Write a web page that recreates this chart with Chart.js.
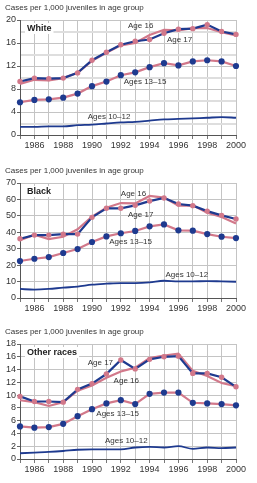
<!DOCTYPE html>
<html><head><meta charset="utf-8">
<script src="https://cdn.jsdelivr.net/npm/chart.js@4.4.0/dist/chart.umd.min.js"></script>
<style>
html,body{margin:0;padding:0;background:#fff;width:257px;height:483px;overflow:hidden}
.p{position:absolute;left:0;width:257px;height:158px}
canvas{display:block}
</style></head><body>
<div class="p" style="top:0"><canvas id="c0" width="257" height="158"></canvas></div>
<div class="p" style="top:163px"><canvas id="c1" width="257" height="158"></canvas></div>
<div class="p" style="top:324px"><canvas id="c2" width="257" height="158"></canvas></div>
<script>
const years = [1985,1986,1987,1988,1989,1990,1991,1992,1993,1994,1995,1996,1997,1998,1999,2000];
const axisTitle = "Cases per 1,000 juveniles in age group";
const seriesNames = ["Age 17","Age 16","Ages 13\u201315","Ages 10\u201312"];

// White
const whiteAge17 = [9.3,9.9,9.8,9.9,10.8,13.0,14.4,15.7,16.3,16.6,17.7,18.4,18.5,19.2,18.0,17.5];
const whiteAge16 = [8.9,9.6,9.5,9.9,10.8,12.9,14.3,15.6,16.0,17.4,18.3,18.2,18.6,18.6,17.9,17.3];
const white13_15 = [5.7,6.1,6.2,6.5,7.2,8.5,9.3,10.4,10.9,11.8,12.5,12.1,12.8,13.0,12.8,12.0];
const white10_12 = [1.4,1.4,1.5,1.5,1.7,1.8,2.0,2.2,2.3,2.5,2.7,2.8,2.9,3.0,3.1,3.0];
// Black
const blackAge17 = [36.1,38.3,38.3,38.9,38.9,49.1,54.6,54.6,56.4,59.0,60.9,57.2,56.2,52.9,50.3,48.1];
const blackAge16 = [35.1,38.5,35.9,37.3,41.8,49.5,55.0,57.8,57.6,62.1,61.1,56.2,56.4,51.9,49.3,45.4];
const black13_15 = [22.5,23.9,24.9,27.4,29.8,34.1,37.5,39.4,40.8,43.6,44.8,41.2,41.0,38.9,37.3,36.5];
const black10_12 = [5.5,5.1,5.5,6.3,6.9,8.1,8.7,9.1,9.1,9.5,10.5,10.1,10.1,10.3,10.1,9.9];
// Other races
const otherAge17 = [9.8,9.0,9.0,8.9,10.9,11.8,13.3,15.5,14.1,15.6,16.0,16.1,13.4,13.4,12.8,11.3];
const otherAge16 = [9.2,8.9,8.3,8.9,10.7,11.5,12.7,13.7,14.3,15.8,16.2,16.5,13.8,13.0,11.9,11.4];
const other13_15 = [5.1,4.9,5.0,5.5,6.7,7.8,8.7,9.2,8.6,10.2,10.4,10.4,8.8,8.7,8.6,8.4];
const other10_12 = [0.9,1.0,1.1,1.25,1.45,1.5,1.5,1.5,1.8,1.9,1.8,2.0,1.6,1.8,1.7,1.8];

const panelNames = ["White","Black","Other races"];
const yMax = [20,70,18];
const yGridStep = [2,10,2];
const yLabelStep = [4,10,2];
// label anchor positions in data space [year, value] for each series label
const labelAnchors = [
  [[1995.2,16.6],[1992.5,19.0],[1992.2,9.3],[1989.7,3.1]],
  [[1992.5,50.8],[1992.0,63.5],[1991.2,34.5],[1995.1,14.4]],
  [[1989.7,15.0],[1991.5,12.3],[1990.3,7.1],[1990.9,2.9]]
];

const BLUE = "#1e3a8f";
const PINK = "#d2788a";
const FONT = "'Liberation Sans', Arial, sans-serif";

const panelData = [
  [whiteAge17, whiteAge16, white13_15, white10_12],
  [blackAge17, blackAge16, black13_15, black10_12],
  [otherAge17, otherAge16, other13_15, other10_12]
];

function makeChart(idx){
  const d = panelData[idx];
  const toPts = arr => arr.map((v,i)=>({x:years[i], y:v}));
  const annot = {
    id:'annot'+idx,
    afterDraw(chart){
      const ctx = chart.ctx, xs = chart.scales.x, ys = chart.scales.y, ca = chart.chartArea;
      ctx.save();
      ctx.fillStyle = "#333";
      ctx.font = "8px " + FONT;
      ctx.textAlign = "left"; ctx.textBaseline = "middle";
      ctx.fillText(axisTitle, 5, 7.5);
      ctx.font = "bold 9px " + FONT;
      const nm = panelNames[idx];
      const w = ctx.measureText(nm).width;
      ctx.fillStyle = "#fff";
      ctx.fillRect(ca.left + 5, ca.top + 3, w + 4, 11);
      ctx.fillStyle = "#222";
      ctx.fillText(nm, ca.left + 7, ca.top + 8.5);
      ctx.font = "8px " + FONT;
      ctx.fillStyle = "#333";
      labelAnchors[idx].forEach((a,k)=>{
        ctx.fillText(seriesNames[k], xs.getPixelForValue(a[0]), ys.getPixelForValue(a[1]));
      });
      ctx.restore();
    }
  };
  return new Chart(document.getElementById('c'+idx), {
    type:'line',
    data:{datasets:[
      {label:seriesNames[0], data:toPts(d[0]), borderColor:BLUE, borderWidth:2.2, pointRadius:2.7, pointBackgroundColor:PINK, pointBorderColor:PINK, pointBorderWidth:0, tension:0, clip:false},
      {label:seriesNames[1], data:toPts(d[1]), borderColor:PINK, borderWidth:2.2, pointRadius:0, tension:0, clip:false},
      {label:seriesNames[2], data:toPts(d[2]), borderColor:PINK, borderWidth:2.2, pointRadius:3.1, pointBackgroundColor:BLUE, pointBorderColor:BLUE, pointBorderWidth:0, tension:0, clip:false},
      {label:seriesNames[3], data:toPts(d[3]), borderColor:BLUE, borderWidth:1.8, pointRadius:0, cubicInterpolationMode:'monotone', clip:false}
    ]},
    options:{
      responsive:false, animation:false, devicePixelRatio:1,
      layout:{padding:{top:20,right:21,left:0,bottom:0}},
      plugins:{legend:{display:false}, tooltip:{enabled:false}, title:{display:false}},
      scales:{
        x:{type:'linear', min:1985, max:2000,
          afterFit(s){ s.height = 23; },
          border:{color:"#555", width:1},
          grid:{color:"#c4c4c4", lineWidth:1, tickLength:4, drawTicks:true, tickColor:"#777"},
          ticks:{stepSize:1, autoSkip:false, maxRotation:0, padding:1, color:"#333", font:{family:FONT, size:9},
            callback:v=> (v%2===0 ? String(v) : "")}
        },
        y:{min:0, max:yMax[idx],
          afterFit(s){ s.width = 20; },
          border:{color:"#555", width:1},
          grid:{
            color:c=> (c.tick && c.tick.value % yLabelStep[idx] === 0) ? "#c4c4c4" : "#dedede",
            lineWidth:c=> (c.tick && c.tick.value % yLabelStep[idx] === 0) ? 1 : 2,
            tickLength:3,
            tickColor:c=> (c.tick && c.tick.value % yLabelStep[idx] === 0) ? "#666" : "rgba(0,0,0,0)"
          },
          ticks:{stepSize:yGridStep[idx], autoSkip:false, padding:1, color:"#333", font:{family:FONT, size:9},
            callback:v=> (v % yLabelStep[idx] === 0 ? String(v) : "")}
        }
      }
    },
    plugins:[annot]
  });
}
[0,1,2].forEach(makeChart);
</script>
</body></html>
